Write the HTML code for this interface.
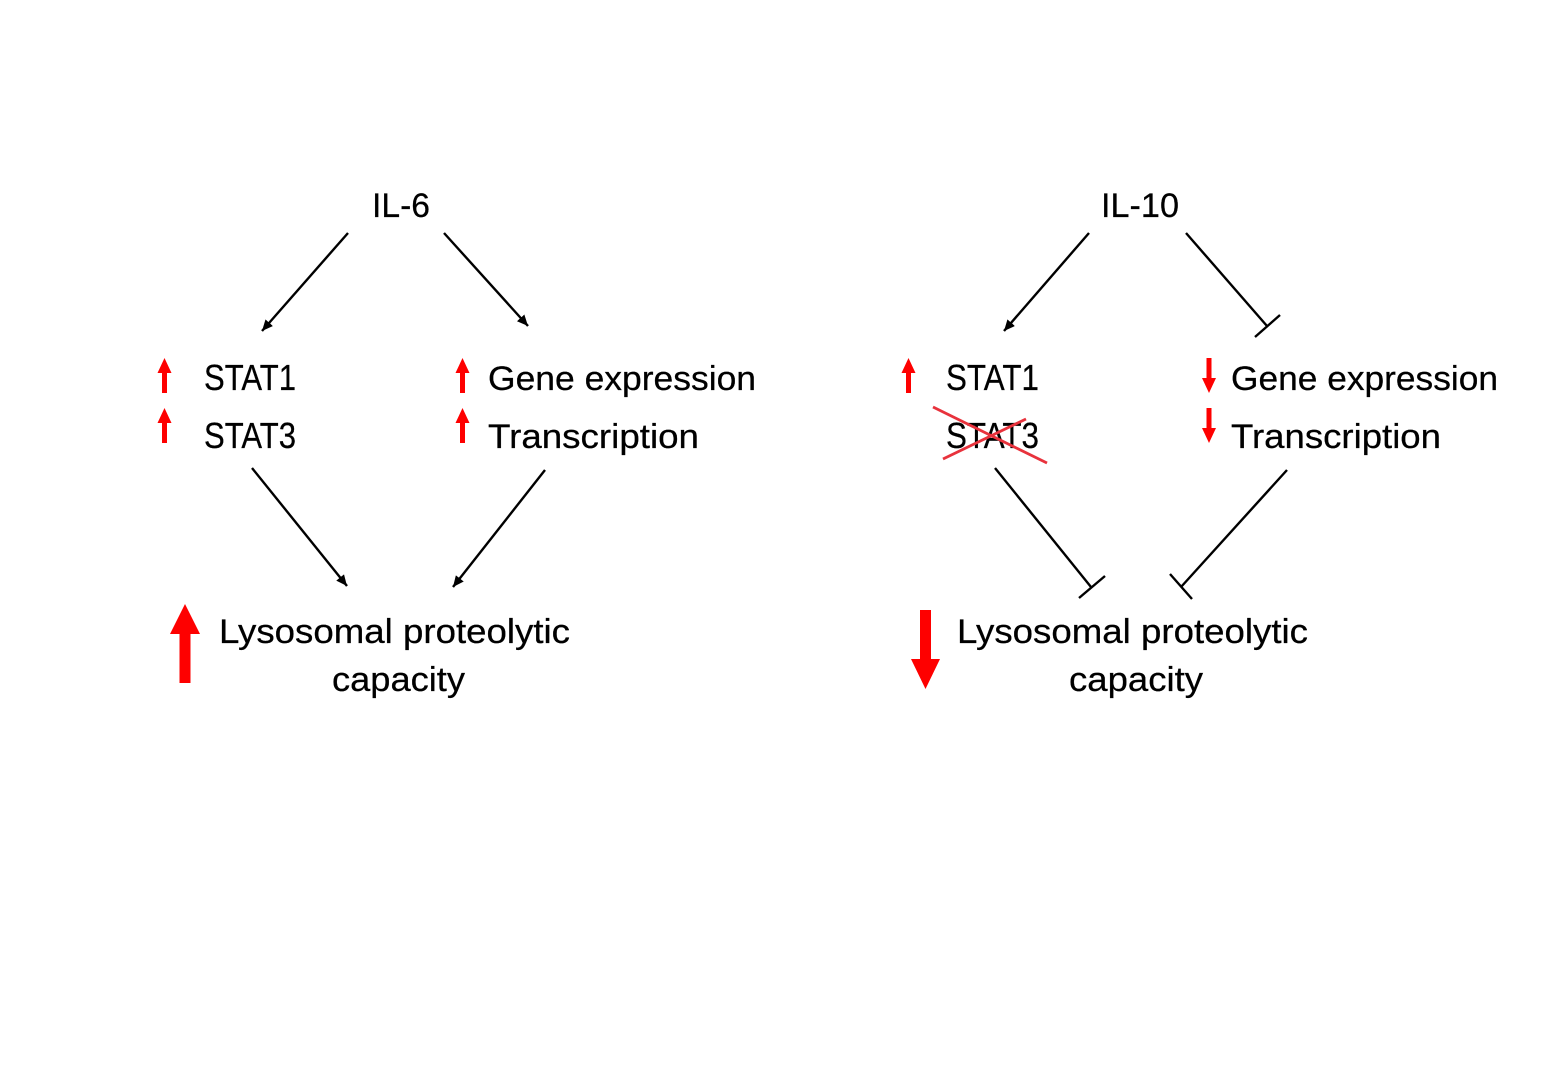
<!DOCTYPE html>
<html>
<head>
<meta charset="utf-8">
<style>
html,body{margin:0;padding:0;background:#fff}
svg{display:block}
text{font-family:"Liberation Sans",sans-serif;font-size:34px;fill:#000;stroke:#000;stroke-width:.25}
.s{font-size:36px}
.k{stroke:#000;stroke-width:2.4;fill:none}
.x{stroke:#e8323c;stroke-width:2.8;fill:none}
</style>
</head>
<body>
<svg width="1557" height="1078" viewBox="0 0 1557 1078" xmlns="http://www.w3.org/2000/svg">
<defs>
<marker id="a" markerUnits="userSpaceOnUse" markerWidth="12" markerHeight="10" refX="11" refY="5" orient="auto">
<path d="M0,0 L11,5 L0,10 Z" fill="#000"/>
</marker>
<path id="up" d="M0,0 L7,15 L2.500,15 L2.500,35 L-2.500,35 L-2.500,15 L-7,15 Z" fill="#fe0000"/>
<path id="dn" d="M-2.500,0 L2.500,0 L2.500,20 L7,20 L0,35 L-7,20 L-2.500,20 Z" fill="#fe0000"/>
</defs>

<!-- Left labels -->
<text x="372" y="217" textLength="58" lengthAdjust="spacingAndGlyphs">IL-6</text>
<text class="s" x="204" y="390" textLength="92" lengthAdjust="spacingAndGlyphs">STAT1</text>
<text class="s" x="204" y="448" textLength="92" lengthAdjust="spacingAndGlyphs">STAT3</text>
<text x="488" y="390" textLength="268" lengthAdjust="spacingAndGlyphs">Gene expression</text>
<text x="488" y="448" textLength="211" lengthAdjust="spacingAndGlyphs">Transcription</text>
<text x="219" y="643" textLength="351" lengthAdjust="spacingAndGlyphs">Lysosomal proteolytic</text>
<text x="332" y="691" textLength="133" lengthAdjust="spacingAndGlyphs">capacity</text>

<!-- Right labels -->
<text x="1101" y="217" textLength="78" lengthAdjust="spacingAndGlyphs">IL-10</text>
<text class="s" x="946" y="390" textLength="93" lengthAdjust="spacingAndGlyphs">STAT1</text>
<text class="s" x="946" y="448" textLength="93" lengthAdjust="spacingAndGlyphs">STAT3</text>
<text x="1231" y="390" textLength="267" lengthAdjust="spacingAndGlyphs">Gene expression</text>
<text x="1231" y="448" textLength="210" lengthAdjust="spacingAndGlyphs">Transcription</text>
<text x="957" y="643" textLength="351" lengthAdjust="spacingAndGlyphs">Lysosomal proteolytic</text>
<text x="1069" y="691" textLength="134" lengthAdjust="spacingAndGlyphs">capacity</text>

<!-- Left connectors -->
<line class="k" x1="348" y1="233" x2="262" y2="331" marker-end="url(#a)"/>
<line class="k" x1="444" y1="233" x2="528" y2="326" marker-end="url(#a)"/>
<line class="k" x1="252" y1="468" x2="347" y2="586" marker-end="url(#a)"/>
<line class="k" x1="545" y1="470" x2="453" y2="587" marker-end="url(#a)"/>

<!-- Right connectors -->
<line class="k" x1="1089" y1="233" x2="1004" y2="331" marker-end="url(#a)"/>
<line class="k" x1="1186" y1="233" x2="1267" y2="326"/>
<line class="k" x1="1255" y1="337" x2="1280" y2="315"/>
<line class="k" x1="995" y1="468" x2="1091" y2="587"/>
<line class="k" x1="1079" y1="598" x2="1105" y2="576"/>
<line class="k" x1="1287" y1="470" x2="1181" y2="587"/>
<line class="k" x1="1170" y1="574" x2="1192" y2="599"/>

<!-- Red cross -->
<line class="x" x1="933" y1="407" x2="1047" y2="463"/>
<line class="x" x1="943" y1="459" x2="1026" y2="419"/>

<!-- Small red arrows -->
<use href="#up" x="164.500" y="358"/>
<use href="#up" x="164.500" y="408"/>
<use href="#up" x="462.500" y="358"/>
<use href="#up" x="462.500" y="408"/>
<use href="#up" x="908.500" y="358"/>
<use href="#dn" x="1209" y="358"/>
<use href="#dn" x="1209" y="408"/>

<!-- Large red arrows -->
<path d="M185,604 L200,634 L190.500,634 L190.500,683 L179.500,683 L179.500,634 L170,634 Z" fill="#fe0000"/>
<path d="M920,610 L931,610 L931,659 L940,659 L925.500,689 L911,659 L920,659 Z" fill="#fe0000"/>
</svg>
</body>
</html>
